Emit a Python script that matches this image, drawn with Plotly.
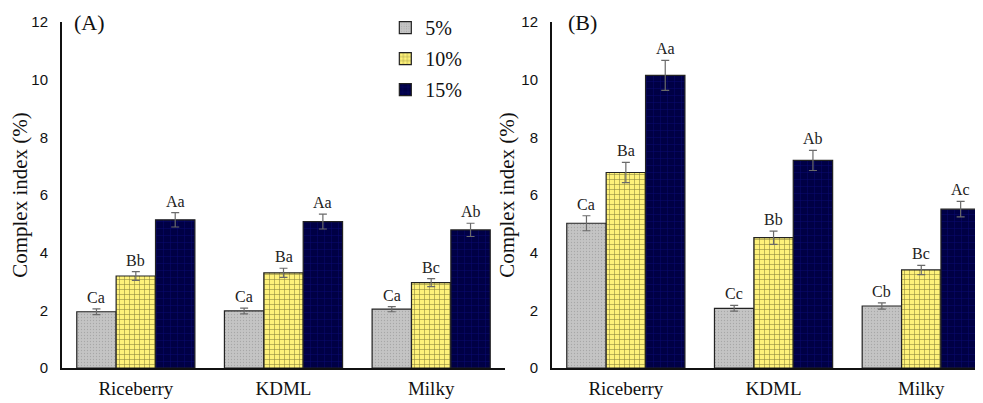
import plotly.graph_objects as go

categories = ["Riceberry", "KDML", "Milky"]
series_names = ["5%", "10%", "15%"]

# Panel A
a_5 = [1.95, 1.98, 2.04]
a_10 = [3.19, 3.30, 2.96]
a_15 = [5.14, 5.08, 4.79]
a_5_err = [0.10, 0.10, 0.09]
a_10_err = [0.15, 0.16, 0.14]
a_15_err = [0.25, 0.26, 0.23]
a_5_lbl = ["Ca", "Ca", "Ca"]
a_10_lbl = ["Bb", "Ba", "Bc"]
a_15_lbl = ["Aa", "Aa", "Ab"]

# Panel B
b_5 = [5.02, 2.07, 2.15]
b_10 = [6.78, 4.52, 3.40]
b_15 = [10.15, 7.20, 5.51]
b_5_err = [0.26, 0.10, 0.11]
b_10_err = [0.35, 0.23, 0.16]
b_15_err = [0.52, 0.35, 0.27]
b_5_lbl = ["Ca", "Cc", "Cb"]
b_10_lbl = ["Ba", "Bb", "Bc"]
b_15_lbl = ["Aa", "Ab", "Ac"]

SERIF = "Liberation Serif, Times New Roman, serif"
SANS = "Liberation Sans, Arial, sans-serif"

W, H = 975, 395  # page body has an 8px margin

styles = [
    dict(color="#c4c4c4", pattern=dict(shape=".", fgcolor="#8a8a8a", bgcolor="#c4c4c4",
                                       size=3, solidity=0.15, fillmode="overlay")),
    dict(color="#fff27a", pattern=dict(shape="+", fgcolor="#1a1a00", bgcolor="#fff27a",
                                       size=5, solidity=0.22, fillmode="overlay")),
    dict(color="#000045", pattern=dict(shape="+", fgcolor="#1414a8", bgcolor="#000045",
                                       size=7, solidity=0.12, fillmode="overlay")),
]

fig = go.Figure()

panels = [
    ("x", "y", [a_5, a_10, a_15], [a_5_err, a_10_err, a_15_err], [a_5_lbl, a_10_lbl, a_15_lbl], True),
    ("x2", "y2", [b_5, b_10, b_15], [b_5_err, b_10_err, b_15_err], [b_5_lbl, b_10_lbl, b_15_lbl], False),
]

annotations = []
for xa, ya, vals, errs, lbls, show in panels:
    for i in range(3):
        st = styles[i]
        fig.add_trace(go.Bar(
            x=categories, y=vals[i], name=series_names[i], xaxis=xa, yaxis=ya,
            showlegend=show, legendgroup=series_names[i],
            marker=dict(color=st["color"], pattern=st["pattern"],
                        line=dict(color="#222222", width=1.2)),
            error_y=dict(type="data", array=errs[i], visible=True,
                         color="#6a6a6a", thickness=1.2, width=4),
        ))
    for i in range(3):
        for j, c in enumerate(categories):
            annotations.append(dict(
                x=j + (i - 1) * 0.8 / 3, y=vals[i][j] + errs[i][j],
                xref=xa, yref=ya, text=lbls[i][j], showarrow=False,
                yanchor="bottom", yshift=1,
                font=dict(family=SERIF, size=16, color="#222222"),
            ))

annotations.append(dict(x=0.022, y=1.0, xref="x domain", yref="y domain", text="(A)",
                        showarrow=False, xanchor="left", yanchor="middle",
                        font=dict(family=SERIF, size=22, color="#111111")))
annotations.append(dict(x=0.032, y=1.0, xref="x2 domain", yref="y2 domain", text="(B)",
                        showarrow=False, xanchor="left", yanchor="middle",
                        font=dict(family=SERIF, size=22, color="#111111")))

xcommon = dict(type="category", showline=True, linecolor="#111111", linewidth=2,
               ticks="outside", ticklen=2, tickcolor="rgba(0,0,0,0)",
               tickfont=dict(family=SERIF, size=19, color="#111111"),
               showgrid=False, zeroline=False, fixedrange=True)
ycommon = dict(range=[0, 12], tickvals=[0, 2, 4, 6, 8, 10, 12], showline=True,
               linecolor="#111111", linewidth=2, ticks="outside", ticklen=9,
               tickcolor="rgba(0,0,0,0)",
               tickfont=dict(family=SANS, size=15, color="#111111"),
               showgrid=False, zeroline=False,
               title=dict(text="Complex index (%)", standoff=1,
                          font=dict(family=SERIF, size=21, color="#111111")))

fig.update_layout(
    width=W, height=H,
    margin=dict(l=0, r=0, t=14, b=35),
    paper_bgcolor="white", plot_bgcolor="white",
    barmode="group", bargap=0.2, bargroupgap=0,
    xaxis=dict(domain=[54 / W, 497 / W], range=[-0.5, 2.5], anchor="y", **xcommon),
    xaxis2=dict(domain=[544 / W, 1.0], range=[-0.5, 2.418], anchor="y2", **xcommon),
    yaxis=dict(anchor="x", **ycommon),
    yaxis2=dict(anchor="x2", **ycommon),
    legend=dict(x=0.387, y=1.04, xanchor="left", yanchor="top",
                bgcolor="rgba(0,0,0,0)", font=dict(family=SERIF, size=20, color="#111111"),
                tracegroupgap=2, itemwidth=30),
    annotations=annotations,
    showlegend=True,
)

fig.write_html("out.html")
